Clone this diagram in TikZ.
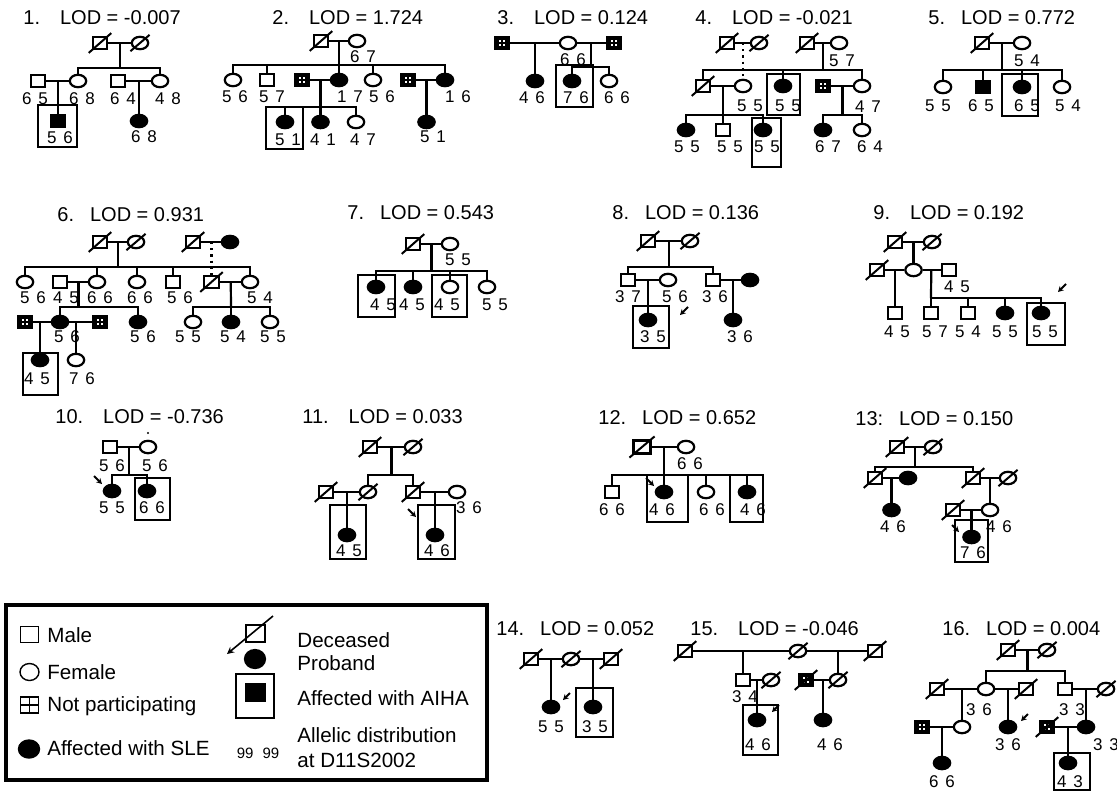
\documentclass[tikz,border=0pt]{standalone}
\usepackage{fontspec}
\setmainfont{Liberation Sans}
\usetikzlibrary{shapes.geometric,arrows.meta,calc}

\tikzset{
  male/.style={draw, line width=1.1pt, minimum width=7.2pt, minimum height=5.8pt, inner sep=0pt},
  female/.style={ellipse, draw, line width=1.1pt, minimum width=8.2pt, minimum height=6.2pt, inner sep=0pt},
  sle/.style={fill=black},
  np/.style={male, fill=black, path picture={
      \foreach \dx/\dy in {-1.5/-1.3, 0.4/-1.3, -1.5/0.3, 0.4/0.3}
        \fill[white] ([shift={(\dx pt,\dy pt)}]path picture bounding box.center) rectangle ++(1.1pt,1pt);}},
  link/.style={line width=1.1pt},
  dslash/.style={line width=1pt},
  aiha/.style={line width=0.6pt},
  allele/.style={font=\fontsize{8.5}{9}\selectfont, inner sep=0pt, execute at begin node={\spaceskip=0.4em\relax}},
  lod/.style={font=\fontsize{10}{12}\selectfont, inner sep=0pt, anchor=west},
  proband/.style={line width=1pt, -{Stealth[length=2.8pt, width=3pt]}},
  lmale/.style={draw, line width=0.7pt, minimum width=9pt, minimum height=8pt, inner sep=0pt},
  lfemale/.style={ellipse, draw, line width=0.7pt, minimum width=9.5pt, minimum height=8.5pt, inner sep=0pt},
  lnp/.style={lmale, path picture={
      \draw[line width=0.7pt] (path picture bounding box.north) -- (path picture bounding box.south)
        (path picture bounding box.west) -- (path picture bounding box.east);}},
  legtext/.style={font=\fontsize{10.3}{12}\selectfont, inner sep=0pt, anchor=west},
}

\begin{document}
\begin{tikzpicture}[x=0.5pt, y=-0.5pt]
  \useasboundingbox (0,0) rectangle (1117,794);

  % 1
  \node[lod] (t1) at (23,18) {1.\hspace{1em}LOD = -0.007};
  \node[male] (p1a) at (100,43) {};
  \node[female] (p1b) at (140,43) {};
  \node[male] (p1c) at (38,81) {};
  \node[female] (p1d) at (78,81) {};
  \node[male] (p1e) at (118,81) {};
  \node[female] (p1f) at (160,81) {};
  \node[male, sle] (p1g) at (58,121) {};
  \node[female, sle] (p1h) at (139,121) {};
  \coordinate (p1s) at (120,68);
  \draw[link] (p1a) -- (p1b);
  \draw[link] ($(p1a)!.5!(p1b)$) -- (p1s);
  \draw[link] (p1d.north) |- (p1s) -| (p1f.north);
  \draw[link] (p1c) -- (p1d);
  \draw[link] ($(p1c)!.5!(p1d)$) -| (p1g.north);
  \draw[link] (p1e) -- (p1f);
  \draw[link] ($(p1e)!.5!(p1f)$) -| (p1h.north);
  \node[allele] at (35,99) {6 5};
  \node[allele] at (82,99) {6 8};
  \node[allele] at (123,99) {6 4};
  \node[allele] at (168,99) {4 8};
  \node[allele] at (60,138) {5 6};
  \node[allele] at (144,137) {6 8};
  \draw[aiha] (38,105) rectangle (77,147);

  % 2
  \node[lod] (t2) at (272,18) {2.\hspace{1em}LOD = 1.724};
  \node[male] (p2a) at (321,41) {};
  \node[female] (p2b) at (357,41) {};
  \node[female] (p2c) at (233,80) {};
  \node[male] (p2d) at (267,80) {};
  \node[np] (p2e) at (302,80) {};
  \node[female, sle] (p2f) at (339,80) {};
  \node[female] (p2g) at (373,80) {};
  \node[np] (p2h) at (408,80) {};
  \node[female, sle] (p2i) at (445,80) {};
  \node[female, sle] (p2j) at (285,122) {};
  \node[female, sle] (p2k) at (320.5,122) {};
  \node[female] (p2l) at (356,122) {};
  \node[female, sle] (p2m) at (426.5,122) {};
  \coordinate (p2s) at (339,65);
  \coordinate (p2t) at (320.5,107);
  \draw[link] (p2a) -- (p2b);
  \draw[link] ($(p2a)!.5!(p2b)$) -- (p2s);
  \draw[link] (p2c.north) |- (p2s) -| (p2i.north);
  \draw[link] (p2d.north) -- (p2d.north |- p2s);
  \draw[link] (p2f.north) -- (p2f.north |- p2s);
  \draw[link] (p2g.north) -- (p2g.north |- p2s);
  \draw[link] (p2e) -- (p2f);
  \draw[link] (p2h) -- (p2i);
  \draw[link] ($(p2e)!.5!(p2f)$) -- (p2k.north);
  \draw[link] (p2j.north) |- (p2t) -| (p2l.north);
  \draw[link] ($(p2h)!.5!(p2i)$) -- (p2m.north);
  \node[allele] at (363,57) {6 7};
  \node[allele] at (235,97) {5 6};
  \node[allele] at (272,97) {5 7};
  \node[allele] at (350,97) {1 7};
  \node[allele] at (382,97) {5 6};
  \node[allele] at (458,97) {1 6};
  \node[allele] at (288,140) {5 1};
  \node[allele] at (323,140) {4 1};
  \node[allele] at (363,140) {4 7};
  \node[allele] at (433,137) {5 1};
  \draw[aiha] (266,107) rectangle (303,149);

  % 3
  \node[lod] (t3) at (497,18) {3.\hspace{1em}LOD = 0.124};
  \node[np] (p3a) at (502,43) {};
  \node[female] (p3b) at (568,43) {};
  \node[np] (p3c) at (614,43) {};
  \node[female, sle] (p3d) at (535,81) {};
  \node[female, sle] (p3e) at (572,81) {};
  \node[female] (p3f) at (609,81) {};
  \coordinate (p3s) at (591,67);
  \draw[link] (p3a) -- (p3b) -- (p3c);
  \draw[link] ($(p3a)!.5!(p3b)$) -- (p3d.north);
  \draw[link] ($(p3b)!.5!(p3c)$) -- (p3s);
  \draw[link] (p3e.north) |- (p3s) -| (p3f.north);
  \node[allele] at (573,60) {6 6};
  \node[allele] at (532,98) {4 6};
  \node[allele] at (576,98) {7 6};
  \node[allele] at (617,98) {6 6};
  \draw[aiha] (556,65) rectangle (593,107);

  % 4
  \node[lod] (t4) at (695,18) {4.\hspace{1em}LOD = -0.021};
  \node[male] (p4a) at (727,43) {};
  \node[female] (p4b) at (759,43) {};
  \node[male] (p4c) at (807,43) {};
  \node[female] (p4d) at (839,43) {};
  \node[male] (p4e) at (703,86) {};
  \node[female] (p4f) at (743,86) {};
  \node[female, sle] (p4g) at (783,86) {};
  \node[np] (p4h) at (823,86) {};
  \node[female] (p4i) at (862,86) {};
  \node[female, sle] (p4j) at (686,130) {};
  \node[male] (p4k) at (723,130) {};
  \node[female, sle] (p4l) at (763,130) {};
  \node[female, sle] (p4m) at (823,130) {};
  \node[female] (p4n) at (862,130) {};
  \coordinate (p4s) at (823,70);
  \coordinate (p4t) at (723,115);
  \coordinate (p4u) at (842.5,115);
  \draw[link] (p4a) -- (p4b);
  \draw[link, dotted] ($(p4a)!.5!(p4b)$) -- (p4f.north);
  \draw[link] (p4c) -- (p4d);
  \draw[link] ($(p4c)!.5!(p4d)$) -- (p4s);
  \draw[link] (p4e.north) |- (p4s) -| (p4i.north);
  \draw[link] (p4g.north) -- (p4g.north |- p4s);
  \draw[link] (p4e) -- (p4f);
  \draw[link] (p4h) -- (p4i);
  \draw[link] ($(p4e)!.5!(p4f)$) -- (p4t);
  \draw[link] (p4j.north) |- (p4t) -| (p4l.north);
  \draw[link] (p4k.north) -- (p4k.north |- p4t);
  \draw[link] ($(p4h)!.5!(p4i)$) -- (p4u);
  \draw[link] (p4m.north) |- (p4u) -| (p4n.north);
  \node[allele] at (842,61) {5 7};
  \node[allele] at (750,106) {5 5};
  \node[allele] at (788,106) {5 5};
  \node[allele] at (868,107) {4 7};
  \node[allele] at (687,147) {5 5};
  \node[allele] at (730,147) {5 5};
  \node[allele] at (767,147) {5 5};
  \node[allele] at (828,147) {6 7};
  \node[allele] at (870,147) {6 4};
  \draw[aiha] (767,74) rectangle (800,115);
  \draw[aiha] (752,118) rectangle (781,167);

  % 5
  \node[lod] (t5) at (928,18) {5.\hspace{0.8em}LOD = 0.772};
  \node[male] (p5a) at (982,43) {};
  \node[female] (p5b) at (1022,43) {};
  \node[female] (p5c) at (943,87) {};
  \node[male, sle] (p5d) at (983,87) {};
  \node[female, sle] (p5e) at (1022,87) {};
  \node[female] (p5f) at (1062,87) {};
  \coordinate (p5s) at (1002,70);
  \draw[link] (p5a) -- (p5b);
  \draw[link] ($(p5a)!.5!(p5b)$) -- (p5s);
  \draw[link] (p5c.north) |- (p5s) -| (p5f.north);
  \draw[link] (p5d.north) -- (p5d.north |- p5s);
  \draw[link] (p5e.north) -- (p5e.north |- p5s);
  \node[allele] at (1027,61) {5 4};
  \node[allele] at (938,106) {5 5};
  \node[allele] at (981,106) {6 5};
  \node[allele] at (1027,106) {6 5};
  \node[allele] at (1068,106) {5 4};
  \draw[aiha] (1002,74) rectangle (1038,116);

  % 6
  \node[lod] (t6) at (57,215) {6.\hspace{0.8em}LOD = 0.931};
  \node[male] (p6a) at (100,242) {};
  \node[female] (p6b) at (136,242) {};
  \node[male] (p6c) at (193,242) {};
  \node[female, sle] (p6d) at (230,242) {};
  \node[female] (p6e) at (25,282) {};
  \node[male] (p6f) at (60,282) {};
  \node[female] (p6g) at (97,282) {};
  \node[female] (p6h) at (137,282) {};
  \node[male] (p6j) at (173,282) {};
  \node[male] (p6i) at (211.5,282) {};
  \node[female] (p6k) at (250,282) {};
  \node[np] (p6n) at (25,322) {};
  \node[female, sle] (p6l) at (60,322) {};
  \node[np] (p6o) at (100,322) {};
  \node[female, sle] (p6m) at (138,322) {};
  \node[female] (p6p) at (193,322) {};
  \node[female, sle] (p6q) at (231,322) {};
  \node[female] (p6r) at (270,322) {};
  \node[female, sle] (p6v) at (40,360) {};
  \node[female] (p6w) at (76,360) {};
  \coordinate (p6s) at (118,267);
  \coordinate (p6t) at (78.5,307);
  \coordinate (p6u) at (231,307);
  \draw[link] (p6a) -- (p6b);
  \draw[link] ($(p6a)!.5!(p6b)$) -- (p6s);
  \draw[link] (p6c) -- (p6d);
  \draw[link, dotted] ($(p6c)!.5!(p6d)$) -- (p6i.north);
  \draw[link] (p6e.north) |- (p6s) -| (p6k.north);
  \draw[link] (p6g.north) -- (p6g.north |- p6s);
  \draw[link] (p6h.north) -- (p6h.north |- p6s);
  \draw[link] (p6j.north) -- (p6j.north |- p6s);
  \draw[link] (p6f) -- (p6g);
  \draw[link] (p6i) -- (p6k);
  \draw[link] ($(p6f)!.5!(p6g)$) -- (p6t);
  \draw[link] (p6l.north) |- (p6t) -| (p6m.north);
  \draw[link] ($(p6i)!.5!(p6k)$) -- (p6u);
  \draw[link] (p6p.north) |- (p6u) -| (p6r.north);
  \draw[link] (p6q.north) -- (p6q.north |- p6u);
  \draw[link] (p6n) -- (p6l) -- (p6o);
  \draw[link] ($(p6n)!.5!(p6l)$) -| (p6v.north);
  \draw[link] ($(p6l)!.5!(p6o)$) -| (p6w.north);
  \node[allele] at (33,298) {5 6};
  \node[allele] at (66,298) {4 5};
  \node[allele] at (100,298) {6 6};
  \node[allele] at (140,298) {6 6};
  \node[allele] at (180,298) {5 6};
  \node[allele] at (260,298) {5 4};
  \node[allele] at (67,337) {5 6};
  \node[allele] at (143,337) {5 6};
  \node[allele] at (188,337) {5 5};
  \node[allele] at (233,337) {5 4};
  \node[allele] at (273,337) {5 5};
  \node[allele] at (37,379) {4 5};
  \node[allele] at (82,379) {7 6};
  \draw[aiha] (23,353) rectangle (58,395);

  % 7
  \node[lod] (t7) at (347,213) {7.\hspace{0.8em}LOD = 0.543};
  \node[male] (p7a) at (413,244) {};
  \node[female] (p7b) at (450,244) {};
  \node[female, sle] (p7c) at (376,287) {};
  \node[female, sle] (p7d) at (413,287) {};
  \node[female] (p7e) at (450,287) {};
  \node[female] (p7f) at (487,287) {};
  \coordinate (p7s) at (431.5,271);
  \draw[link] (p7a) -- (p7b);
  \draw[link] ($(p7a)!.5!(p7b)$) -- (p7s);
  \draw[link] (p7c.north) |- (p7s) -| (p7f.north);
  \draw[link] (p7d.north) -- (p7d.north |- p7s);
  \draw[link] (p7e.north) -- (p7e.north |- p7s);
  \node[allele] at (458,260) {5 5};
  \node[allele] at (383,305) {4 5};
  \node[allele] at (412,305) {4 5};
  \node[allele] at (447,305) {4 5};
  \node[allele] at (495,305) {5 5};
  \draw[aiha] (358,275) rectangle (395,317);
  \draw[aiha] (432,275) rectangle (467,317);

  % 8
  \node[lod] (t8) at (612,213) {8.\hspace{0.8em}LOD = 0.136};
  \node[male] (p8a) at (648,241) {};
  \node[female] (p8b) at (690,241) {};
  \node[male] (p8c) at (628,280) {};
  \node[female] (p8d) at (668,280) {};
  \node[male] (p8e) at (713,280) {};
  \node[female, sle] (p8f) at (750,280) {};
  \node[female, sle] (p8g) at (648,320) {};
  \node[female, sle] (p8h) at (733,320) {};
  \coordinate (p8s) at (669,267);
  \draw[link] (p8a) -- (p8b);
  \draw[link] ($(p8a)!.5!(p8b)$) -- (p8s);
  \draw[link] (p8c.north) |- (p8s) -| (p8e.north);
  \draw[link] (p8c) -- (p8d);
  \draw[link] (p8e) -- (p8f);
  \draw[link] ($(p8c)!.5!(p8d)$) -| (p8g.north);
  \draw[link] ($(p8e)!.5!(p8f)$) -| (p8h.north);
  \node[allele] at (628,297) {3 7};
  \node[allele] at (675,297) {5 6};
  \node[allele] at (715,297) {3 6};
  \node[allele] at (653,337) {3 5};
  \node[allele] at (740,337) {3 6};
  \draw[aiha] (633,306) rectangle (669,348);
  \draw[proband] (688,307) -- (680,315);

  % 9
  \node[lod] (t9) at (873,213) {9.\hspace{1em}LOD = 0.192};
  \node[male] (p9a) at (895,242) {};
  \node[female] (p9b) at (932,242) {};
  \node[male] (p9c) at (877,270) {};
  \node[female] (p9d) at (913.5,270) {};
  \node[male] (p9e) at (949,270) {};
  \node[male] (p9f) at (895,313) {};
  \node[male] (p9g) at (931,313) {};
  \node[male] (p9h) at (968,313) {};
  \node[female, sle] (p9i) at (1005,313) {};
  \node[female, sle] (p9j) at (1041,313) {};
  \coordinate (p9s) at (931,298);
  \draw[link] (p9a) -- (p9b);
  \draw[link] ($(p9a)!.5!(p9b)$) -- (p9d.north);
  \draw[link] (p9c) -- (p9d) -- (p9e);
  \draw[link] ($(p9c)!.5!(p9d)$) -| (p9f.north);
  \draw[link] ($(p9d)!.5!(p9e)$) -- (p9s);
  \draw[link] (p9g.north) |- (p9s) -| (p9j.north);
  \draw[link] (p9h.north) -- (p9h.north |- p9s);
  \draw[link] (p9i.north) -- (p9i.north |- p9s);
  \node[allele] at (957,287) {4 5};
  \node[allele] at (897,332) {4 5};
  \node[allele] at (935,332) {5 7};
  \node[allele] at (968,332) {5 4};
  \node[allele] at (1005,332) {5 5};
  \node[allele] at (1045,332) {5 5};
  \draw[aiha] (1027,303) rectangle (1065,345);
  \draw[proband] (1066,284) -- (1058,292);

  % 10
  \node[lod] (t10) at (55,417) {10.\hspace{1em}LOD = -0.736};
  \fill (148,433) circle (0.6pt);
  \node[male] (p10a) at (110,447) {};
  \node[female] (p10b) at (148,447) {};
  \node[female, sle] (p10c) at (112,491) {};
  \node[female, sle] (p10d) at (147,491) {};
  \coordinate (p10s) at (129,475);
  \draw[link] (p10a) -- (p10b);
  \draw[link] ($(p10a)!.5!(p10b)$) -- (p10s);
  \draw[link] (p10c.north) |- (p10s) -| (p10d.north);
  \node[allele] at (112,466) {5 6};
  \node[allele] at (155,466) {5 6};
  \node[allele] at (112,508) {5 5};
  \node[allele] at (152,508) {6 6};
  \draw[aiha] (135,478) rectangle (170,520);
  \draw[proband] (94,476) -- (102,484);

  % 11
  \node[lod] (t11) at (302,417) {11.\hspace{1em}LOD = 0.033};
  \node[male] (p11a) at (370,447) {};
  \node[female] (p11b) at (413,447) {};
  \node[male] (p11c) at (326,492) {};
  \node[female] (p11d) at (368,492) {};
  \node[male] (p11e) at (413,492) {};
  \node[female] (p11f) at (457,492) {};
  \node[female, sle] (p11g) at (347,535) {};
  \node[female, sle] (p11h) at (435,535) {};
  \coordinate (p11s) at (391.5,475);
  \draw[link] (p11a) -- (p11b);
  \draw[link] ($(p11a)!.5!(p11b)$) -- (p11s);
  \draw[link] (p11d.north) |- (p11s) -| (p11e.north);
  \draw[link] (p11c) -- (p11d);
  \draw[link] (p11e) -- (p11f);
  \draw[link] ($(p11c)!.5!(p11d)$) -| (p11g.north);
  \draw[link] ($(p11e)!.5!(p11f)$) -| (p11h.north);
  \node[allele] at (349,551) {4 5};
  \node[allele] at (437,551) {4 6};
  \node[allele] at (469,508) {3 6};
  \draw[aiha] (330,505) rectangle (366,559);
  \draw[aiha] (418,505) rectangle (455,559);
  \draw[proband] (408,509) -- (416,517);

  % 12
  \node[lod] (t12) at (598,418) {12.\hspace{0.8em}LOD = 0.652};
  \node[male, minimum width=8.5pt, minimum height=6.5pt] (p12a) at (642,447) {};
  \node[female] (p12b) at (686,447) {};
  \node[male] (p12c) at (612,492) {};
  \node[female, sle] (p12d) at (664,492) {};
  \node[female] (p12e) at (706,492) {};
  \node[female, sle] (p12f) at (747,492) {};
  \coordinate (p12s) at (664,475);
  \draw[link] (p12a) -- (p12b);
  \draw[link] ($(p12a)!.5!(p12b)$) -- (p12d.north);
  \draw[link] (p12c.north) |- (p12s) -| (p12f.north);
  \draw[link] (p12e.north) -- (p12e.north |- p12s);
  \node[allele] at (690,464) {6 6};
  \node[allele] at (612,510) {6 6};
  \node[allele] at (662,510) {4 6};
  \node[allele] at (712,510) {6 6};
  \node[allele] at (753,510) {4 6};
  \draw[aiha] (647,475) rectangle (688,522);
  \draw[aiha] (730,475) rectangle (763,522);
  \draw[proband] (646,478) -- (654,486);

  % 13
  \node[lod] (t13) at (855,419) {13:\hspace{0.8em}LOD = 0.150};
  \node[male] (p13a) at (897,447) {};
  \node[female] (p13b) at (933,447) {};
  \node[male] (p13c) at (875,478) {};
  \node[female, sle] (p13d) at (908,478) {};
  \node[male] (p13e) at (973,478) {};
  \node[female] (p13f) at (1008,478) {};
  \node[female, sle] (p13g) at (891.5,510) {};
  \node[male] (p13i) at (953,510) {};
  \node[female] (p13h) at (990,510) {};
  \node[female, sle] (p13j) at (971.5,537) {};
  \coordinate (p13s) at (915,467);
  \draw[link] (p13a) -- (p13b);
  \draw[link] ($(p13a)!.5!(p13b)$) -- (p13s);
  \draw[link] (p13c.north) |- (p13s) -| (p13e.north);
  \draw[link] (p13c) -- (p13d);
  \draw[link] (p13e) -- (p13f);
  \draw[link] ($(p13c)!.5!(p13d)$) -- (p13g.north);
  \draw[link] ($(p13e)!.5!(p13f)$) -| (p13h.north);
  \draw[link] (p13i) -- (p13h);
  \draw[link] ($(p13i)!.5!(p13h)$) -- (p13j.north);
  \node[allele] at (893,527) {4 6};
  \node[allele] at (999,527) {4 6};
  \node[allele] at (973,553) {7 6};
  \draw[aiha] (955,520) rectangle (988,562);
  \draw[proband] (952,525) -- (959,532);

  % legend
  \draw[line width=2pt] (6,605) rectangle (487,780);
  \node[lmale] (lg1) at (29.5,634.5) {};
  \node[legtext] at (47,635) {Male};
  \node[lfemale] (lg2) at (29.5,672) {};
  \node[legtext] at (47,672) {Female};
  \node[lnp] (lg3) at (29.5,705) {};
  \node[legtext] at (47,706) {Not participating};
  \node[lfemale, fill=black, minimum width=10.5pt, minimum height=9pt] (lg4) at (29,749) {};
  \node[legtext] at (47,748) {Affected with SLE};
  \node[lmale, minimum width=9.5pt, minimum height=8.5pt] (lg5) at (255.5,633.5) {};
  \node[female, sle, minimum width=10pt, minimum height=9pt] (lg6) at (255,659) {};
  \draw[line width=0.8pt, -{Stealth[length=3.5pt, width=3.5pt]}] (273,616) -- (227,654);
  \node[legtext] at (297,640) {Deceased};
  \node[legtext] at (297,663) {Proband};
  \draw[line width=0.8pt] (236,674) rectangle (274,718);
  \node[draw, fill=black, minimum width=10pt, minimum height=9pt, inner sep=0pt] (lg7) at (255,692.5) {};
  \node[legtext] at (297,698) {Affected with AIHA};
  \node[font=\fontsize{7.5}{8}\selectfont, inner sep=0pt] at (258,753) {99\hspace{0.6em}99};
  \node[legtext] at (297,735) {Allelic distribution};
  \node[legtext] at (297,760) {at D11S2002};

  % 14
  \node[lod] (t14) at (496,629) {14.\hspace{0.8em}LOD = 0.052};
  \node[male] (p14a) at (531,659) {};
  \node[female] (p14b) at (571,659) {};
  \node[male] (p14c) at (611,659) {};
  \node[female, sle] (p14d) at (551,707) {};
  \node[female, sle] (p14e) at (593,707) {};
  \draw[link] (p14a) -- (p14b) -- (p14c);
  \draw[link] ($(p14a)!.5!(p14b)$) -- (p14d.north);
  \draw[link] ($(p14b)!.5!(p14c)$) -| (p14e.north);
  \node[allele] at (551,727) {5 5};
  \node[allele] at (595,727) {3 5};
  \draw[aiha] (576,688) rectangle (613,737);
  \draw[proband] (570,693) -- (563,700);

  % 15
  \node[lod] (t15) at (690,629) {15.\hspace{1em}LOD = -0.046};
  \node[male] (p15a) at (685,651) {};
  \node[female] (p15b) at (798,651) {};
  \node[male] (p15c) at (875,651) {};
  \node[male] (p15d) at (743,680) {};
  \node[female] (p15e) at (771,680) {};
  \node[np] (p15f) at (806,680) {};
  \node[female] (p15g) at (838,680) {};
  \node[female, sle] (p15h) at (757,720) {};
  \node[female, sle] (p15i) at (823,720) {};
  \draw[link] (p15a) -- (p15b) -- (p15c);
  \draw[link] ($(p15a)!.5!(p15b)$) -| (p15d.north);
  \draw[link] ($(p15b)!.5!(p15c)$) -| (p15g.north);
  \draw[link] (p15d) -- (p15e);
  \draw[link] (p15f) -- (p15g);
  \draw[link] ($(p15d)!.5!(p15e)$) -- (p15h.north);
  \draw[link] ($(p15f)!.5!(p15g)$) -| (p15i.north);
  \node[allele] at (745,697) {3 4};
  \node[allele] at (758,745) {4 6};
  \node[allele] at (830,745) {4 6};
  \draw[aiha] (743,705) rectangle (778,755);
  \draw[proband] (779,705) -- (772,712);

  % 16
  \node[lod] (t16) at (942,629) {16.\hspace{0.8em}LOD = 0.004};
  \node[male] (p16a) at (1008,650) {};
  \node[female] (p16b) at (1047,650) {};
  \node[male] (p16c) at (937,689) {};
  \node[female] (p16d) at (986,689) {};
  \node[male] (p16e) at (1026,689) {};
  \node[male] (p16f) at (1065,689) {};
  \node[female] (p16g) at (1106,689) {};
  \node[np] (p16h) at (922,727) {};
  \node[female] (p16i) at (962,727) {};
  \node[female, sle] (p16j) at (1008,727) {};
  \node[np] (p16k) at (1047,727) {};
  \node[female, sle] (p16l) at (1086,727) {};
  \node[female, sle] (p16m) at (942,763) {};
  \node[female, sle] (p16n) at (1068,763) {};
  \coordinate (p16s) at (1027.5,671);
  \draw[link] (p16a) -- (p16b);
  \draw[link] ($(p16a)!.5!(p16b)$) -- (p16s);
  \draw[link] (p16d.north) |- (p16s) -| (p16f.north);
  \draw[link] (p16c) -- (p16d) -- (p16e);
  \draw[link] (p16f) -- (p16g);
  \draw[link] ($(p16c)!.5!(p16d)$) -| (p16i.north);
  \draw[link] ($(p16d)!.5!(p16e)$) -| (p16j.north);
  \draw[link] ($(p16f)!.5!(p16g)$) -| (p16l.north);
  \draw[link] (p16h) -- (p16i);
  \draw[link] (p16k) -- (p16l);
  \draw[link] ($(p16h)!.5!(p16i)$) -- (p16m.north);
  \draw[link] ($(p16k)!.5!(p16l)$) -| (p16n.north);
  \node[allele] at (979,710) {3 6};
  \node[allele] at (1072,710) {3 3};
  \node[allele] at (1008,745) {3 6};
  \node[allele] at (1106,745) {3 3};
  \node[allele] at (942,782) {6 6};
  \node[allele] at (1070,782) {4 3};
  \draw[aiha] (1054,753) rectangle (1090,790);
  \draw[proband] (1028,714) -- (1021,721);

  % deceased marks
  \foreach \n in {p1a,p1b,p2a,p4a,p4b,p4c,p4e,p5a,p6a,p6b,p6c,p6i,p7a,p8a,p8b,
                  p9a,p9b,p9c,p11a,p11b,p11c,p11d,p11e,p12a,p13a,p13b,p13c,p13e,p13f,p13i,
                  p14a,p14b,p14c,p15a,p15b,p15c,p15e,p15f,p15g,p16a,p16b,p16c,p16e,p16g,p16k}
    \draw[dslash] ($(\n.south west)+(-3,3)$) -- ($(\n.north east)+(3,-3)$);
\end{tikzpicture}
\end{document}
